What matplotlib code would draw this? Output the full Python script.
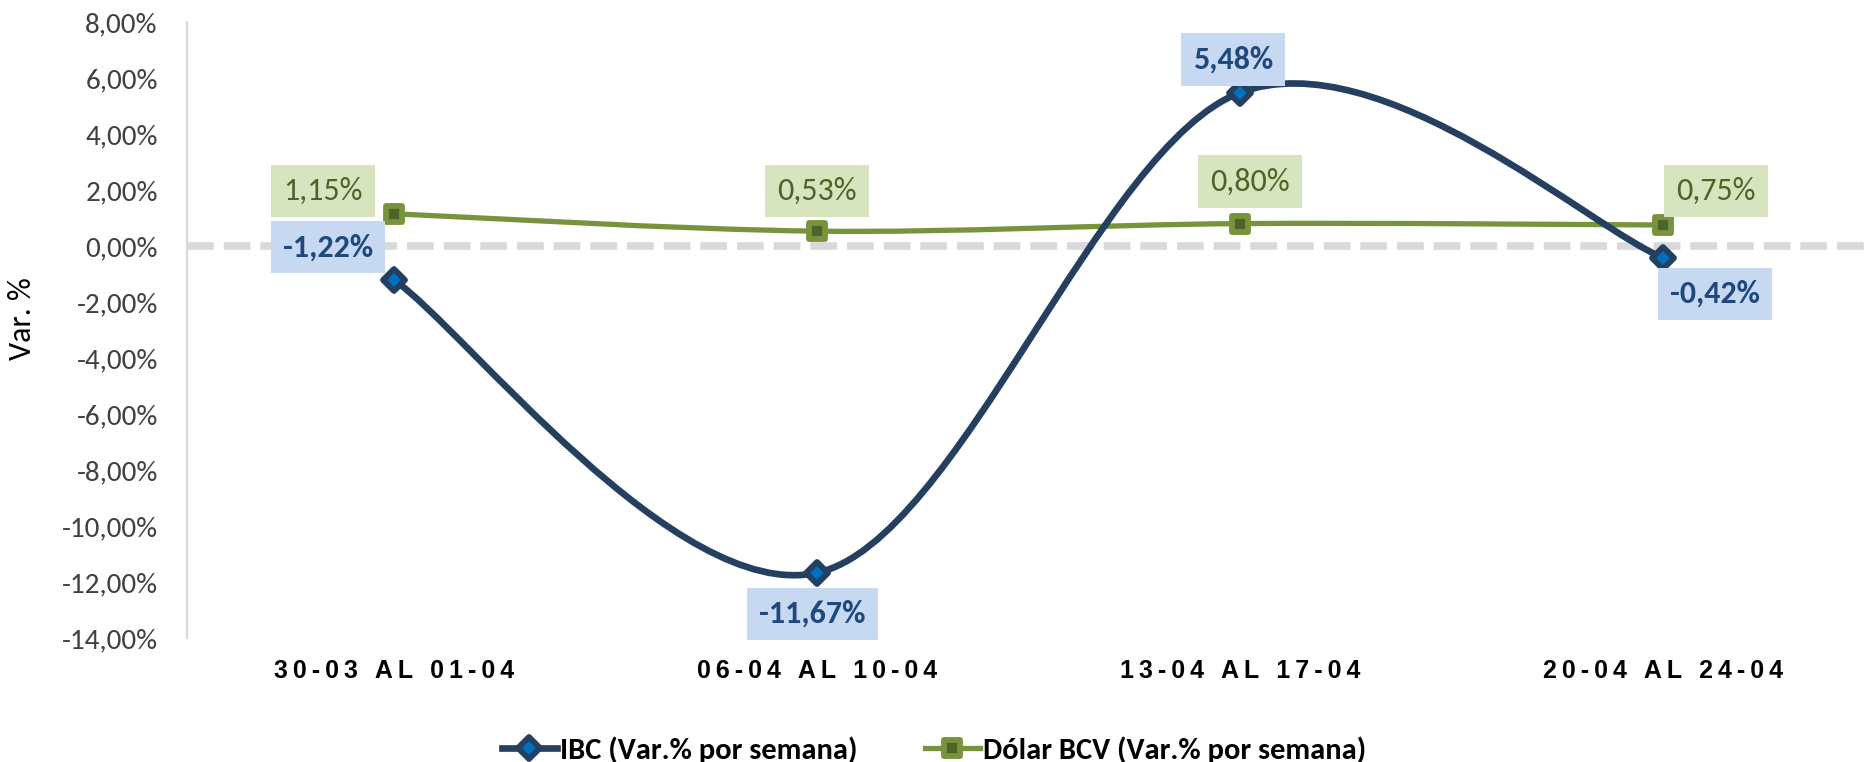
import numpy as np
import matplotlib
matplotlib.use("Agg")
import matplotlib.pyplot as plt
from matplotlib.path import Path
from matplotlib.patches import PathPatch
from matplotlib.markers import MarkerStyle
from matplotlib.lines import Line2D

semanas = ["30-03 AL 01-04", "06-04 AL 10-04", "13-04 AL 17-04", "20-04 AL 24-04"]
ibc = [-1.22, -11.67, 5.48, -0.42]
dolar = [1.15, 0.53, 0.80, 0.75]
serie_ibc = "IBC (Var.% por semana)"
serie_dolar = "Dólar BCV (Var.% por semana)"

# label offsets in pixels (dx, dy) relative to each point
off_ibc = [(-66, 33), (-5, -41), (-7, 33), (52, -36)]
off_dolar = [(-71, 23), (0, 40), (10, 42), (53, 34)]

calibri = ["Carlito", "DejaVu Sans"]
arial = ["Liberation Sans", "DejaVu Sans"]

c_ibc = "#243F60"
c_ibc_fill = "#0070C0"
c_dol = "#77933C"
c_dol_fill = "#4F6228"


def pct(v):
    return f"{v:.2f}%".replace(".", ",")


def spaced(s):
    return "\u2009".join(list(s))


def smooth_path(xs, ys):
    # excel-like smoothed line: cubic bezier with catmull-rom control points
    p = np.column_stack([xs, ys]).astype(float)
    n = len(p)
    verts = [p[0]]
    codes = [Path.MOVETO]
    for i in range(n - 1):
        prev = p[i - 1] if i > 0 else p[i]
        nxt = p[i + 2] if i + 2 < n else p[i + 1]
        c1 = p[i] + (p[i + 1] - prev) / 6
        c2 = p[i + 1] - (nxt - p[i]) / 6
        verts += [c1, c2, p[i + 1]]
        codes += [Path.CURVE4] * 3
    return Path(verts, codes)


fig = plt.figure(figsize=(18.68, 7.62), dpi=100)
ax = fig.add_axes([187 / 1868, 1 - 638 / 762, 1 - 187 / 1868, (638 - 22) / 762])

x = np.arange(len(semanas))

ax.axhline(0, color="#D9D9D9", lw=5.5, dashes=(3.5, 1.3), dash_capstyle="butt", zorder=1)

ax.add_patch(PathPatch(smooth_path(x, dolar), fc="none", ec=c_dol, lw=3.8,
                       capstyle="round", zorder=2))
ax.add_patch(PathPatch(smooth_path(x, ibc), fc="none", ec=c_ibc, lw=4.8,
                       capstyle="round", zorder=3))

sq = MarkerStyle("s", joinstyle="round")
dm = MarkerStyle("D", joinstyle="round")
ax.plot(x, dolar, ls="none", marker=sq, ms=12, mfc=c_dol_fill, mec=c_dol, mew=4.2, zorder=4)
ax.plot(x, ibc, ls="none", marker=dm, ms=11, mfc=c_ibc_fill, mec=c_ibc, mew=4.2, zorder=5)

for xi, v, (dx, dy) in zip(x, ibc, off_ibc):
    ax.annotate(pct(v), (xi, v), xytext=(dx, dy), textcoords="offset pixels",
                ha="center", va="center", fontsize=23, fontweight="bold",
                color="#1F497D", family=calibri,
                bbox=dict(boxstyle="square,pad=0.38", fc="#C6D9F1", ec="none"),
                zorder=6)
for xi, v, (dx, dy) in zip(x, dolar, off_dolar):
    ax.annotate(pct(v), (xi, v), xytext=(dx, dy), textcoords="offset pixels",
                ha="center", va="center", fontsize=23,
                color=c_dol_fill, family=calibri,
                bbox=dict(boxstyle="square,pad=0.38", fc="#D7E4BD", ec="none"),
                zorder=6)

ax.set_xlim(-0.49, 3.484)
ax.set_ylim(-14, 8)
ax.set_yticks(np.arange(-14, 9, 2))
ax.set_yticklabels([pct(t) for t in np.arange(-14, 9, 2)], family=calibri,
                   fontsize=21, color="#404040")
ax.set_xticks(x)
ax.set_xticklabels([spaced(s) for s in semanas], family=arial, fontsize=18,
                   fontweight="bold", color="black")
ax.tick_params(axis="y", length=0, pad=21)
ax.tick_params(axis="x", length=0, pad=15)

for side in ["top", "right", "bottom"]:
    ax.spines[side].set_visible(False)
ax.spines["left"].set_color("#D9D9D9")
ax.spines["left"].set_linewidth(1.6)

fig.text(22 / 1868, 1 - 319 / 762, "Var. %", rotation=90, ha="center",
         va="center", fontsize=23, family=calibri, color="black")

handles = [
    Line2D([], [], color=c_ibc, lw=4.8, marker=dm, ms=11, mfc=c_ibc_fill,
           mec=c_ibc, mew=4.2),
    Line2D([], [], color=c_dol, lw=3.8, marker=sq, ms=12, mfc=c_dol_fill,
           mec=c_dol, mew=4.2),
]
fig.legend(handles, [serie_ibc, serie_dolar], loc="center",
           bbox_to_anchor=(0.5, 1 - 750 / 762), ncol=2, frameon=False,
           prop=dict(family=calibri, size=22, weight="bold"),
           handlelength=1.8, handletextpad=0.1, columnspacing=2.2,
           borderpad=0, borderaxespad=0)

fig.savefig("out.png", dpi=100)
